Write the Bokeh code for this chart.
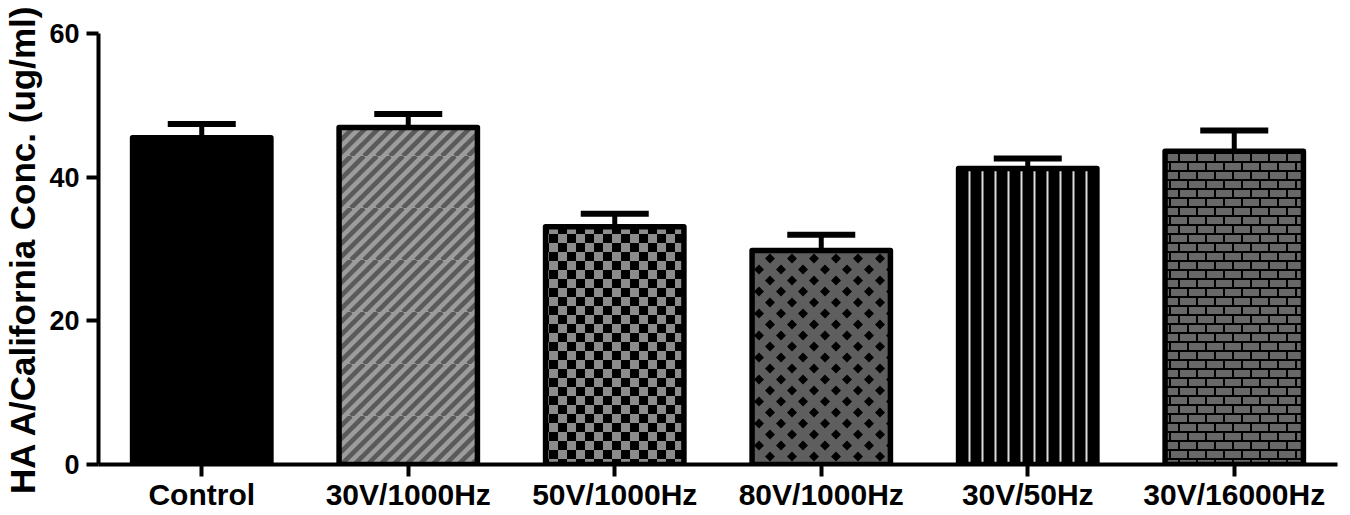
import base64
from bokeh.plotting import figure
from bokeh.models import FactorRange, FixedTicker, Whisker, TeeHead, ImageURLTexture, ColumnDataSource
from bokeh.core.properties import value
from bokeh.embed import file_html
from bokeh.resources import INLINE

# ---- data ----
categories = ["Control", "30V/1000Hz", "50V/1000Hz", "80V/1000Hz", "30V/50Hz", "30V/16000Hz"]
means = [45.5, 46.9, 33.1, 29.8, 41.2, 43.6]
errors = [1.9, 1.9, 1.8, 2.2, 1.4, 2.9]
y_ticks = [0, 20, 40, 60]

# ---- styles (one per bar) ----
fills = ["#000000", "#9c9c9c", "#000000", "#5e5e5e", "#000000", "#000000"]
patterns = [" ", "stripes", "checker", "diamond", "|", "brick"]
hatch_colors = ["#000000", "#5a5a5a", "#8c8c8c", "#000000", "#dcdcdc", "#686868"]
hatch_scales = [10, 52, 18, 22, 13, 18]
hatch_weights = [1, 1, 1, 1, 2, 1]


def svg_texture(body, size, crisp=True):
    svg = ('<svg xmlns="http://www.w3.org/2000/svg" width="%d" height="%d"%s>%s</svg>'
           % (size, size, ' shape-rendering="crispEdges"' if crisp else '', body))
    return ImageURLTexture(url="data:image/svg+xml;base64," + base64.b64encode(svg.encode()).decode())


stripe_path = " ".join("M%d,52 L%d,0" % (x0, x0 + 52) for x0 in range(-52, 66, 13))

textures = {
    "stripes": svg_texture(
        '<rect width="52" height="52" fill="#9c9c9c"/>'
        '<path d="%s" stroke="#5a5a5a" stroke-width="4.6"/>' % stripe_path, 52, crisp=False),
    "checker": svg_texture(
        '<rect width="18" height="18" fill="#000000"/>'
        '<rect width="9" height="9" fill="#8c8c8c"/>'
        '<rect x="9" y="9" width="9" height="9" fill="#8c8c8c"/>', 18),
    "diamond": svg_texture(
        '<rect width="22" height="22" fill="#5e5e5e"/>'
        '<path d="M6,5.5 L11,0.5 L16,5.5 L11,10.5 Z '
        'M-5,16.5 L0,11.5 L5,16.5 L0,21.5 Z '
        'M17,16.5 L22,11.5 L27,16.5 L22,21.5 Z" fill="#000000"/>', 22, crisp=False),
    "brick": svg_texture(
        '<rect width="18" height="18" fill="#000000"/>'
        '<rect x="1" y="1" width="16" height="7" fill="#686868"/>'
        '<rect x="-8" y="10" width="16" height="7" fill="#686868"/>'
        '<rect x="10" y="10" width="16" height="7" fill="#686868"/>', 18),
}

upper = [m + e for m, e in zip(means, errors)]
src = ColumnDataSource(dict(cat=categories, mean=means, upper=upper))

p = figure(x_range=FactorRange(factors=categories), y_range=(0, 60),
           width=1342, height=513, output_backend="svg", toolbar_location=None,
           min_border_left=92, min_border_right=5, min_border_top=33, min_border_bottom=47)
p.outline_line_color = None
p.xgrid.grid_line_color = None
p.ygrid.grid_line_color = None

whisk = Whisker(base="cat", upper="upper", lower="mean", source=src,
                line_width=5, line_color="black",
                upper_head=TeeHead(size=68, line_width=6, line_color="black"),
                lower_head=None)
p.add_layout(whisk)

for i, cat in enumerate(categories):
    p.vbar(x=[cat], top=[means[i]], bottom=0, width=0.67,
           fill_color=fills[i], line_color="black", line_width=5.5, line_join="round",
           hatch_pattern=value(patterns[i]), hatch_color=hatch_colors[i],
           hatch_scale=hatch_scales[i], hatch_weight=hatch_weights[i],
           hatch_extra=textures)

# y axis
p.yaxis.ticker = FixedTicker(ticks=y_ticks)
p.yaxis.minor_tick_line_color = None
p.yaxis.axis_label = "HA A/California Conc. (ug/ml)"
p.yaxis.axis_label_text_font = "Liberation Sans"
p.yaxis.axis_label_text_font_style = "bold"
p.yaxis.axis_label_text_font_size = "35px"
p.yaxis.axis_label_text_color = "black"
p.yaxis.axis_label_standoff = 4

for ax in (p.xaxis, p.yaxis):
    ax.axis_line_width = 4
    ax.axis_line_color = "black"
    ax.major_tick_line_width = 4
    ax.major_tick_line_color = "black"
    ax.major_tick_in = 0
    ax.major_label_text_font = "Liberation Sans"
    ax.major_label_text_font_style = "bold"
    ax.major_label_text_color = "black"

p.yaxis.major_tick_out = 12
p.yaxis.major_label_text_font_size = "27px"
p.yaxis.major_label_standoff = 7
p.xaxis.major_tick_out = 12
p.xaxis.major_label_text_font_size = "30px"
p.xaxis.major_label_standoff = 1

open("out.html", "w").write(file_html(p, INLINE))
